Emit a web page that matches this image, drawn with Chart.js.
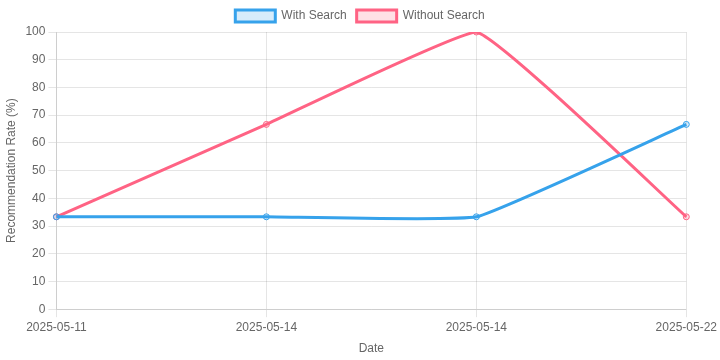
<!DOCTYPE html>
<html>
<head>
<meta charset="utf-8">
<script src="https://cdn.jsdelivr.net/npm/chart.js@4"></script>
<style>
  html, body { margin: 0; padding: 0; background: #fff; }
  #box { width: 720px; height: 360px; }
</style>
</head>
<body>
<div id="box"><canvas id="grafico"></canvas></div>
<script>
const fechas = ['2025-05-11', '2025-05-14', '2025-05-14', '2025-05-22'];
const conBusqueda = [33.33, 33.33, 33.33, 66.67];
const sinBusqueda = [33.33, 66.67, 100, 33.33];

window.onload = function () {
    const ctx = document.getElementById('grafico');
    new Chart(ctx.getContext('2d'), {
        type: 'line',
        data: {
            labels: fechas,
            datasets: [{
                label: 'With Search',
                data: conBusqueda,
                borderColor: 'rgb(54, 162, 235)',
                backgroundColor: 'rgba(54, 162, 235, 0.2)',
                borderWidth: 3,
                pointRadius: 3,
                pointBorderWidth: 1,
                tension: 0.1,
                fill: false
            }, {
                label: 'Without Search',
                data: sinBusqueda,
                borderColor: 'rgb(255, 99, 132)',
                backgroundColor: 'rgba(255, 99, 132, 0.2)',
                borderWidth: 3,
                pointRadius: 3,
                pointBorderWidth: 1,
                tension: 0.1,
                fill: false
            }]
        },
        options: {
            responsive: true,
            maintainAspectRatio: false,
            animation: false,
            scales: {
                y: {
                    min: 0,
                    max: 100,
                    ticks: { stepSize: 10 },
                    title: { display: true, text: 'Recommendation Rate (%)' }
                },
                x: {
                    title: { display: true, text: 'Date' }
                }
            },
            plugins: {
                legend: { display: true, position: 'top' }
            }
        }
    });
};
</script>
</body>
</html>
